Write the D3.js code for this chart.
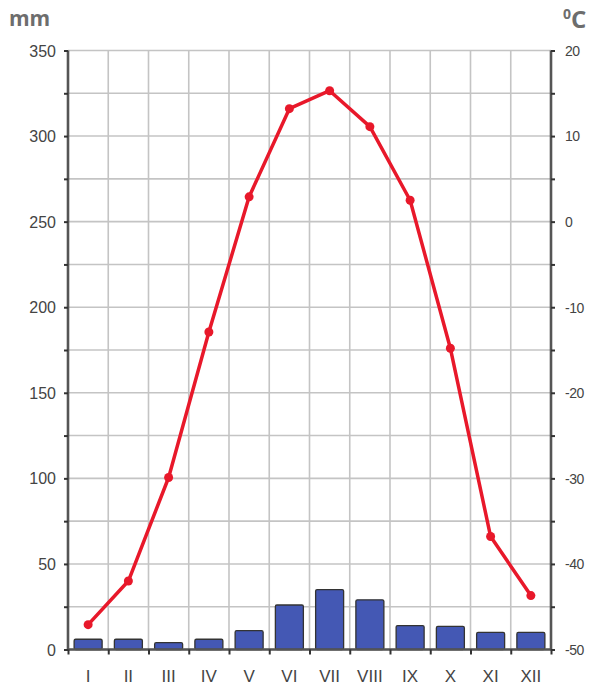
<!DOCTYPE html>
<html><head><meta charset="utf-8">
<script src="https://cdn.jsdelivr.net/npm/d3@7/dist/d3.min.js"></script>
<style>body{margin:0;background:#fff}svg{display:block}</style>
</head><body>
<script>
const months = ["I","II","III","IV","V","VI","VII","VIII","IX","X","XI","XII"];
const precip = [6, 6, 4, 6, 11, 26, 35, 29, 14, 13.5, 10, 10];
const temp = [-47.1, -42.0, -29.9, -12.9, 2.9, 13.2, 15.3, 11.1, 2.5, -14.8, -36.8, -43.7];
const mmTicks = [0, 50, 100, 150, 200, 250, 300, 350];
const tTicks = [-50, -40, -30, -20, -10, 0, 10, 20];

(function(){
const W = 603, H = 695;
const pL = 68, pR = 551, pT = 50.5, pB = 649.5;
const svg = d3.select("body").append("svg").attr("width", W).attr("height", H);

const x = d3.scaleBand().domain(months).range([pL, pR]).padding(0);
const yP = d3.scaleLinear().domain([0, 350]).range([pB, pT]);
const yT = d3.scaleLinear().domain([-50, 20]).range([pB, pT]);

// grid
const grid = svg.append("g").attr("stroke", "#c4c4c4").attr("stroke-width", 1.6);
d3.range(0, 351, 25).forEach(v => {
  grid.append("line").attr("x1", pL).attr("x2", pR).attr("y1", yP(v)).attr("y2", yP(v));
});
months.forEach((m, i) => {
  if (i === 0) return;
  const xx = x(m);
  grid.append("line").attr("x1", xx).attr("x2", xx).attr("y1", pT).attr("y2", pB);
});

// bars
const bw = 28;
svg.append("g").selectAll("rect").data(months).join("rect")
  .attr("x", (d) => x(d) + x.bandwidth() / 2 - bw / 2)
  .attr("y", (d, i) => yP(precip[i]))
  .attr("width", bw)
  .attr("height", (d, i) => yP(0) - yP(precip[i]))
  .attr("rx", 1.5)
  .attr("fill", "#4458b4")
  .attr("stroke", "#333")
  .attr("stroke-width", 1.3);

// axes
const axisColor = "#555";
const yl = d3.axisLeft(yP).tickValues(d3.range(0, 351, 25)).tickSize(4)
  .tickFormat(d => mmTicks.includes(d) ? d : "");
const gl = svg.append("g").attr("transform", `translate(${pL},0)`).call(yl);
const yr = d3.axisRight(yT).tickValues(d3.range(-50, 21, 5)).tickSize(4)
  .tickFormat(d => tTicks.includes(d) ? d : "");
const gr = svg.append("g").attr("transform", `translate(${pR},0)`).call(yr);
const xb = d3.axisBottom(d3.scaleLinear().domain([0, 12]).range([pL, pR]))
  .tickValues(d3.range(0, 13)).tickSize(5).tickFormat("");
const gb = svg.append("g").attr("transform", `translate(0,${pB})`).call(xb);
[gl, gr, gb].forEach(g => {
  g.select(".domain").attr("stroke", axisColor).attr("stroke-width", 2.6);
  g.selectAll(".tick line").attr("stroke", "#333").attr("stroke-width", 2);
  g.selectAll("text").attr("font-family", "Liberation Sans, Arial, sans-serif")
    .attr("font-size", 16).attr("fill", "#444");
});
gl.selectAll("text").attr("x", -12).attr("dy", "0.35em");
gr.selectAll("text").attr("x", 14).attr("dy", "0.35em").attr("font-size", 14).attr("letter-spacing", "-0.5px");
gl.select(".domain").attr("d", `M0,${pT}V${pB}`);
gr.select(".domain").attr("d", `M0,${pT}V${pB}`);
gb.select(".domain").attr("d", `M${pL},0H${pR}`);

// month labels
svg.append("g").selectAll("text").data(months).join("text")
  .attr("x", d => x(d) + x.bandwidth() / 2)
  .attr("y", 682)
  .attr("text-anchor", "middle")
  .attr("font-family", "Liberation Sans, Arial, sans-serif")
  .attr("font-size", 17).attr("fill", "#444")
  .text(d => d);

// temperature line
const line = d3.line().x((d, i) => x(months[i]) + x.bandwidth() / 2).y(d => yT(d));
svg.append("path").datum(temp).attr("d", line).attr("fill", "none")
  .attr("stroke", "#e8182a").attr("stroke-width", 3.5).attr("stroke-linejoin", "round");
svg.append("g").selectAll("circle").data(temp).join("circle")
  .attr("cx", (d, i) => x(months[i]) + x.bandwidth() / 2)
  .attr("cy", d => yT(d)).attr("r", 4.5).attr("fill", "#e8182a");

// unit labels
svg.append("text").attr("x", 9).attr("y", 26)
  .attr("font-family", "Open Sans, Liberation Sans, sans-serif").attr("font-weight", "bold")
  .attr("font-size", 21).attr("fill", "#6d6d6d").text("mm");
const cl = svg.append("text").attr("x", 563).attr("y", 28)
  .attr("font-family", "Open Sans, Liberation Sans, sans-serif").attr("font-weight", "bold")
  .attr("fill", "#6d6d6d");
cl.append("tspan").attr("font-size", 14).attr("dy", -9).text("0");
cl.append("tspan").attr("font-size", 24).attr("dy", 9).text("C");
})();
</script>
</body></html>
